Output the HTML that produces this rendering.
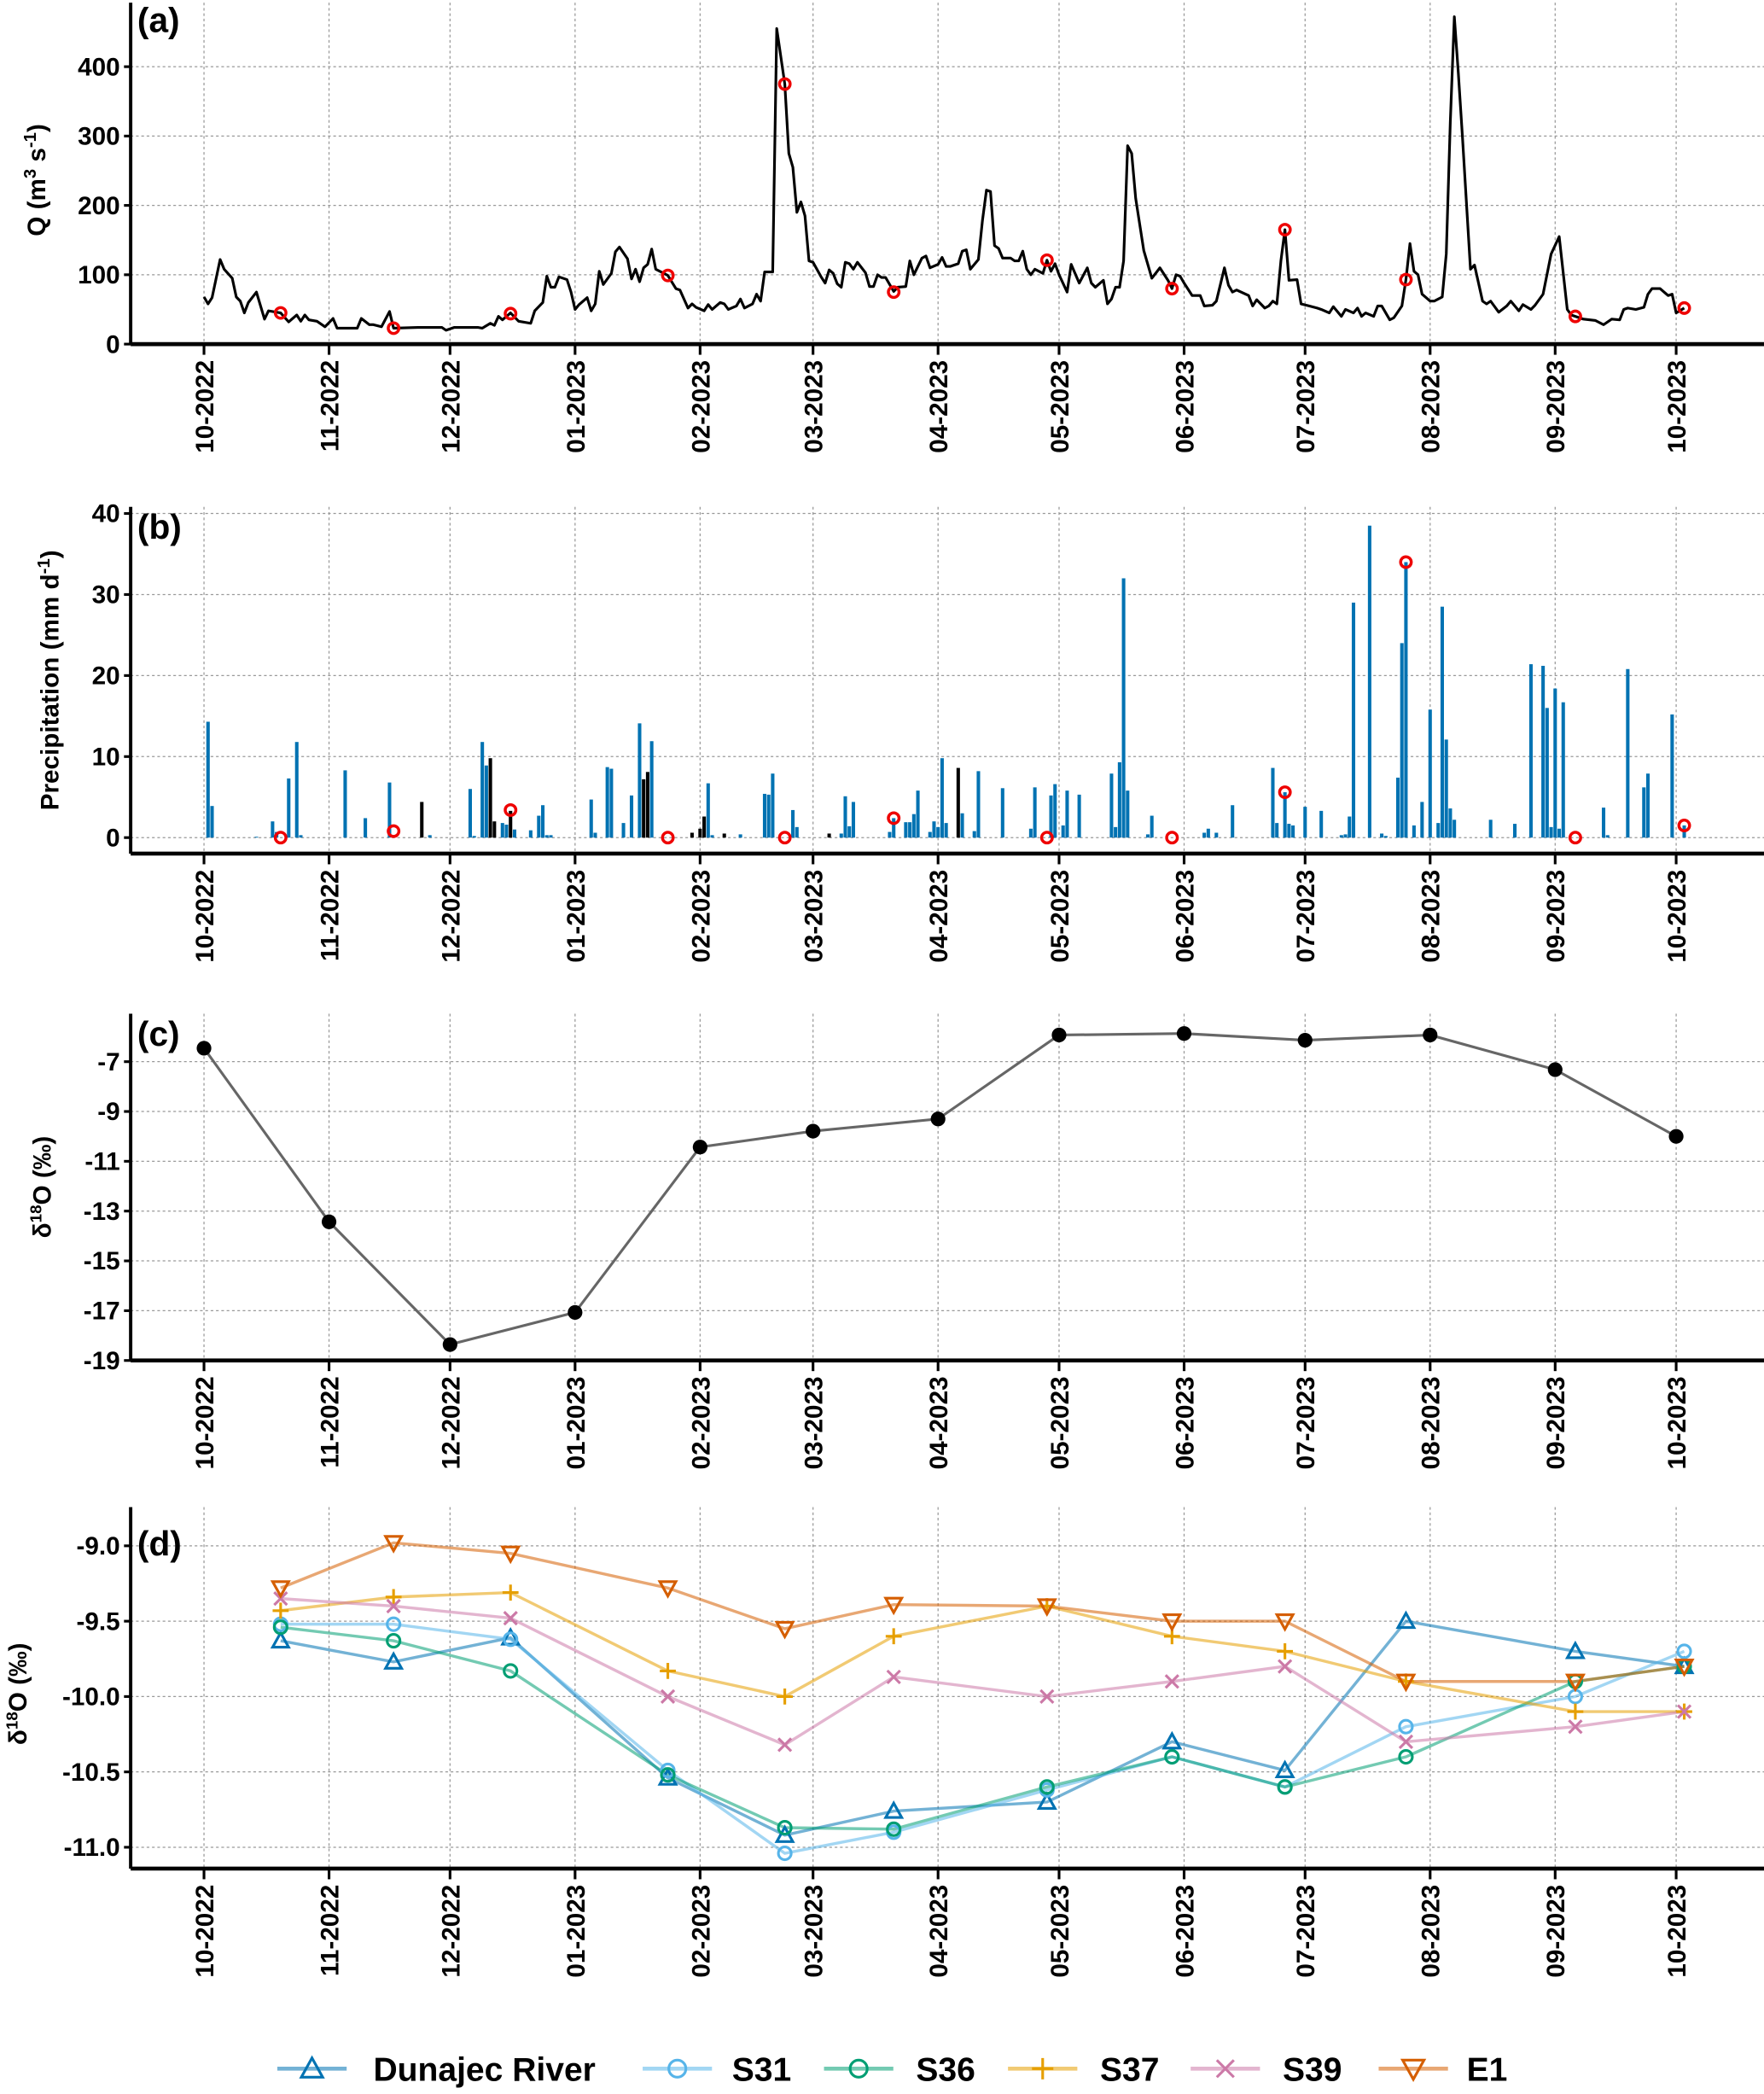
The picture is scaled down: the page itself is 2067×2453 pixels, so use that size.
<!DOCTYPE html>
<html><head><meta charset="utf-8">
<style>
html,body{margin:0;padding:0;background:#fff;}
svg{display:block;}
text{font-family:"Liberation Sans",sans-serif;font-weight:bold;fill:#000;}
</style></head>
<body>
<svg id="fig" width="2067" height="2453" viewBox="0 0 1323 1570" preserveAspectRatio="none" xmlns="http://www.w3.org/2000/svg"></svg>
<script>
// ---- data ----
const monthLabels = ["10-2022","11-2022","12-2022","01-2023","02-2023","03-2023","04-2023","05-2023","06-2023","07-2023","08-2023","09-2023","10-2023"];
const monthDays = [0,31,61,92,123,151,182,212,243,273,304,335,365];
const qDays = [0,1,2,4,5,7,8,9,10,11,13,15,16,19,21,23,24,25,26,28,30,32,33,38,39,41,42,44,46,47,53,59,60,62,68,69,71,72,73,74,76,78,81,82,84,85,86,87,88,90,91,92,93,95,96,97,98,99,101,102,103,105,106,107,108,109,110,111,112,115,117,118,120,121,122,124,125,126,128,129,130,132,133,134,136,137,138,139,141,142,144,145,146,147,148,149,150,151,153,154,155,156,157,158,159,160,161,162,164,165,166,167,168,169,171,172,174,175,176,178,179,180,182,183,184,185,187,188,189,190,192,193,194,195,196,197,198,200,201,202,203,204,205,206,208,209,210,211,212,214,215,217,219,220,221,223,224,225,226,227,228,229,230,231,233,235,237,239,240,241,242,243,245,247,248,250,251,253,254,255,256,259,260,261,263,264,265,266,267,268,269,271,272,274,276,277,279,280,282,283,285,286,287,288,290,291,292,294,295,297,298,299,300,301,302,304,305,307,308,309,310,311,312,314,315,317,318,319,321,323,324,326,327,329,330,332,334,336,338,339,340,342,345,347,349,351,352,353,355,357,358,359,361,363,364,365,367];
const qVals = [68,58,67,122,108,95,68,62,45,60,75,36,48,45,32,42,33,42,35,33,25,37,23,23,37,28,28,25,47,23,24,24,20,24,24,23,30,27,40,35,45,33,30,48,60,98,82,82,97,93,75,50,57,67,48,58,105,86,102,133,140,123,94,108,90,110,115,137,108,99,80,78,52,58,53,48,57,50,60,58,50,55,65,52,58,72,62,104,104,455,375,275,255,190,205,185,120,118,97,88,107,102,87,82,118,116,108,118,103,83,83,100,96,96,76,82,83,120,100,124,127,110,115,125,112,112,116,134,136,108,122,178,222,220,142,138,124,124,120,120,134,108,100,108,102,121,105,116,100,75,115,88,110,88,82,92,58,65,82,82,120,286,275,210,135,95,110,92,80,100,98,88,70,70,55,56,62,110,85,75,78,70,55,64,52,55,62,58,120,165,92,93,58,55,52,50,45,54,40,50,45,52,40,45,40,55,55,35,38,55,93,145,105,100,72,62,62,68,130,320,472,390,300,108,114,62,58,62,46,55,62,48,57,50,56,72,130,155,50,42,40,36,34,28,36,35,50,52,50,53,72,80,80,70,72,45,52];
const sampleDays = [19,47,76,115,144,171,209,240,268,298,340,367];
const sampleQ = [45,23,44,99,375,75,121,80,165,93,40,52];
const samplePrecip = [0,0.8,3.4,0,0,2.4,0,0,5.6,34,0,1.5];
const pDays = [1,2,13,17,18,21,23,24,35,40,46,54,56,66,67,69,70,71,72,74,75,76,77,81,83,84,85,86,96,97,100,101,104,106,108,109,110,111,121,123,124,125,126,129,133,139,140,141,146,147,155,158,159,160,161,170,171,174,175,176,177,180,181,182,183,184,187,188,191,192,198,205,206,210,211,213,214,217,225,226,227,228,229,234,235,248,249,251,255,265,266,268,269,270,273,277,282,283,284,285,289,292,293,296,297,298,300,302,304,306,307,308,309,310,319,325,329,332,333,334,335,336,337,347,348,353,357,358,364,367];
const pVals = [14.3,3.9,0.1,2,0.7,7.3,11.8,0.3,8.3,2.4,6.8,4.4,0.3,6,0.2,11.8,8.9,9.8,2,1.8,1.6,3.3,1,0.9,2.7,4,0.3,0.3,4.7,0.6,8.7,8.5,1.8,5.2,14.1,7.2,8.1,11.9,0.6,1.1,2.6,6.7,0.3,0.5,0.4,5.4,5.3,7.9,3.4,1.3,0.5,0.5,5.1,1.4,4.4,0.7,2.4,1.9,1.9,2.9,5.8,0.7,2,1.3,9.8,1.8,8.6,3,0.8,8.2,6.1,1.1,6.2,5.2,6.6,1.5,5.8,5.3,7.9,1.3,9.3,32,5.8,0.4,2.7,0.6,1.1,0.6,4,8.6,1.8,5.6,1.7,1.5,3.8,3.3,0.3,0.4,2.6,29,38.5,0.5,0.2,7.4,24,34,1.5,4.4,15.8,1.8,28.5,12.1,3.6,2.2,2.2,1.7,21.4,21.2,16,1.3,18.4,1.1,16.7,3.7,0.3,20.8,6.2,7.9,15.2,1.5];
const pSnowDays = [54,71,72,76,109,110,121,123,124,129,155,187];
const precipIso = [-6.46,-13.43,-18.36,-17.07,-10.43,-9.79,-9.30,-5.93,-5.87,-6.14,-5.93,-7.32,-10.0];
const dunajec = [-9.63,-9.77,-9.61,-10.54,-10.92,-10.76,-10.70,-10.30,-10.49,-9.50,-9.70,-9.80];
const s31 = [-9.52,-9.52,-9.62,-10.49,-11.04,-10.90,-10.62,-10.40,-10.60,-10.20,-10.00,-9.70];
const s36 = [-9.54,-9.63,-9.83,-10.52,-10.87,-10.88,-10.60,-10.40,-10.60,-10.40,-9.90,-9.80];
const s37 = [-9.43,-9.34,-9.31,-9.83,-10.0,-9.60,-9.40,-9.60,-9.70,-9.90,-10.10,-10.10];
const s39 = [-9.35,-9.40,-9.48,-10.0,-10.32,-9.87,-10.0,-9.90,-9.80,-10.30,-10.20,-10.10];
const e1 = [-9.28,-8.98,-9.05,-9.28,-9.55,-9.39,-9.40,-9.50,-9.50,-9.90,-9.90,-9.80];
const qTicks = [0,100,200,300,400];
const pTicks = [0,10,20,30,40];
const cTicks = [-7,-9,-11,-13,-15,-17,-19];
const dTicks = [-9.0,-9.5,-10.0,-10.5,-11.0];

// ---- helpers ----
const NS = "http://www.w3.org/2000/svg";
const svg = document.getElementById("fig");
function mk(tag, attrs, parent){ const e=document.createElementNS(NS,tag); for(const k in attrs) e.setAttribute(k,attrs[k]); (parent||svg).appendChild(e); return e; }
const X = d => 153 + d*3.025;
const AX_L = 98, AX_R = 1323;

function panel(name, top, axisY, yScale, ticks, fmt, title, titleY, letter, letterY){
  const g = mk("g",{});
  
  
  monthDays.forEach(d=>{ const l=mk("line",{x1:X(d),x2:X(d),y1:top,y2:axisY,stroke:"#999","stroke-width":0.8,"stroke-dasharray":"2,2"},g);
      });
  ticks.forEach(v=>{ const y=yScale(v); const l=mk("line",{x1:AX_L,x2:AX_R,y1:y,y2:y,stroke:"#999","stroke-width":0.8,"stroke-dasharray":"2,2"},g);
     
    const tk=mk("line",{x1:AX_L-5,x2:AX_L,y1:y,y2:y,stroke:"#000","stroke-width":2},g);
     
    const t=mk("text",{x:AX_L-8,y:y+6.5,"text-anchor":"end","font-size":19},g); t.textContent=fmt(v);
      });
  const ya=mk("line",{x1:AX_L,x2:AX_L,y1:top,y2:axisY,stroke:"#000","stroke-width":2.5},g);
   
  const xa=mk("line",{x1:AX_L,x2:AX_R,y1:axisY,y2:axisY,stroke:"#000","stroke-width":3},g);
   
  monthDays.forEach((d,i)=>{ const tk=mk("line",{x1:X(d),x2:X(d),y1:axisY,y2:axisY+8,stroke:"#000","stroke-width":2},g);
     
    const t=mk("text",{x:0,y:0,"text-anchor":"end","font-size":19,transform:`translate(${X(d)+7},${axisY+12}) rotate(-90)`},g);
    t.textContent=monthLabels[i];   });
  const tt=mk("text",{x:0,y:0,"text-anchor":"middle","font-size":19,transform:`translate(${title.x},${titleY}) rotate(-90)`},g);
  tt.innerHTML=title.html;  
  const lt=mk("text",{x:103,y:letterY,"font-size":26},g); lt.textContent=letter;
   
  return g;
}

// ---- panel a ----
const yA = v => 258 - v*0.52;
const gA = panel("discharge-panel", 2, 258, yA, qTicks, v=>String(v), {x:34,html:'Q (m<tspan dy="-7" font-size="13">3</tspan><tspan dy="7"> s</tspan><tspan dy="-7" font-size="13">-1</tspan><tspan dy="7">)</tspan>'}, 135, "(a)", 24);
const qLine = mk("polyline",{points:qDays.map((d,i)=>X(d)+","+yA(qVals[i])).join(" "),fill:"none",stroke:"#000","stroke-width":2,"stroke-linejoin":"round"},gA);
 
sampleDays.forEach((d,i)=>{ const c=mk("circle",{cx:X(d),cy:yA(sampleQ[i]),r:4,fill:"none",stroke:"#e00","stroke-width":2.2},gA);
    });

// ---- panel b ----
const yB = v => 628 - v*6.075;
const gB = panel("precipitation-panel", 380, 640, yB, pTicks, v=>String(v), {x:44,html:'Precipitation (mm d<tspan dy="-7" font-size="13">-1</tspan><tspan dy="7">)</tspan>'}, 510, "(b)", 404);
pDays.forEach((d,i)=>{ const snow=pSnowDays.includes(d); const y=yB(pVals[i]);
  const r=mk("rect",{x:X(d)-1.3,y:y,width:2.6,height:Math.max(628-y,0.5),fill:snow?"#000":"#0072B2"},gB);
    });
sampleDays.forEach((d,i)=>{ const c=mk("circle",{cx:X(d),cy:yB(samplePrecip[i]),r:4,fill:"none",stroke:"#e00","stroke-width":2.2},gB);
    });

// ---- panel c ----
const yC = v => 796 + (-7 - v)*18.67;
const gC = panel("precip-isotope-panel", 760, 1020, yC, cTicks, v=>String(v), {x:38,html:'δ<tspan dy="-7" font-size="12">18</tspan><tspan dy="7">O (‰)</tspan>'}, 890, "(c)", 784);
const cLine = mk("polyline",{points:monthDays.map((d,i)=>X(d)+","+yC(precipIso[i])).join(" "),fill:"none",stroke:"#666","stroke-width":2},gC);
 
monthDays.forEach((d,i)=>{ const c=mk("circle",{cx:X(d),cy:yC(precipIso[i]),r:5.5,fill:"#000"},gC);
    });

// ---- panel d ----
const yD = v => 1159 + (-9 - v)*113;
const gD = panel("stream-isotope-panel", 1130, 1401, yD, dTicks, v=>v.toFixed(1), {x:20,html:'δ<tspan dy="-7" font-size="12">18</tspan><tspan dy="7">O (‰)</tspan>'}, 1270, "(d)", 1166);
const seriesNames = ["Dunajec River","S31","S36","S37","S39","E1"];
const seriesVals = [dunajec,s31,s36,s37,s39,e1];
const seriesCols = ["#0072B2","#56B4E9","#009E73","#E69F00","#CC79A7","#D55E00"];
function marker(k,x,y,col,parent,sz){
  sz=sz||6; let e;
  if(k===0) e=mk("polygon",{points:`${x},${y-sz} ${x-sz},${y+sz*0.8} ${x+sz},${y+sz*0.8}`,fill:"none",stroke:col,"stroke-width":2},parent);
  else if(k===1||k===2) e=mk("circle",{cx:x,cy:y,r:sz*0.8,fill:"none",stroke:col,"stroke-width":2},parent);
  else if(k===3) e=mk("path",{d:`M${x-sz},${y}H${x+sz}M${x},${y-sz}V${y+sz}`,stroke:col,"stroke-width":2},parent);
  else if(k===4) e=mk("path",{d:`M${x-sz*0.8},${y-sz*0.8}L${x+sz*0.8},${y+sz*0.8}M${x+sz*0.8},${y-sz*0.8}L${x-sz*0.8},${y+sz*0.8}`,stroke:col,"stroke-width":2},parent);
  else e=mk("polygon",{points:`${x},${y+sz} ${x-sz},${y-sz*0.8} ${x+sz},${y-sz*0.8}`,fill:"none",stroke:col,"stroke-width":2},parent);
  return e;
}
seriesVals.forEach((vals,k)=>{
  const l=mk("polyline",{points:sampleDays.map((d,i)=>X(d)+","+yD(vals[i])).join(" "),fill:"none",stroke:seriesCols[k],"stroke-width":2.2,"stroke-opacity":0.55},gD);
  
  
});
seriesVals.forEach((vals,k)=>{
  sampleDays.forEach((d,i)=>{ const m=marker(k,X(d),yD(vals[i]),seriesCols[k],gD);
      });
});

// ---- legend ----
const gL = mk("g",{});


const legX = [208,482,618,756,893,1034];
const legTextX = [280,549,687,825,962,1100];
seriesNames.forEach((n,k)=>{
  const g=mk("g",{},gL);
  
  
  mk("line",{x1:legX[k],x2:legX[k]+52,y1:1551,y2:1551,stroke:seriesCols[k],"stroke-width":3,"stroke-opacity":0.55},g);
  marker(k,legX[k]+26,1551,seriesCols[k],g,8);
  const t=mk("text",{x:legTextX[k],y:1560,"font-size":25},g); t.textContent=n;
});
</script>
</body></html>
